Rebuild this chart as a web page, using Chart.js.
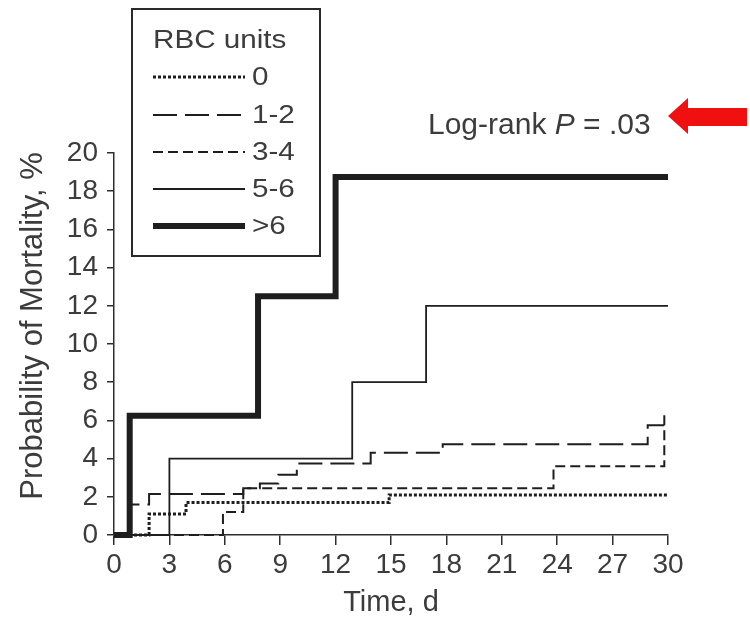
<!DOCTYPE html>
<html>
<head>
<meta charset="utf-8">
<script src="https://cdn.jsdelivr.net/npm/chart.js@4.4.1/dist/chart.umd.min.js"></script>
<style>
  body { margin: 0; background: #fff; }
  #wrap { width: 750px; height: 622px; }
</style>
</head>
<body>
<div id="wrap"><canvas id="kmChart" width="750" height="622"></canvas></div>
<script>
// Kaplan-Meier style mortality curves by RBC units transfused
const groupLabels = ['0', '1-2', '3-4', '5-6', '>6'];

const days0 = [0, 1.9, 3.9, 14.9, 30];
const mort0 = [0, 1.1, 1.7, 2.1, 2.1];

const days12 = [0, 0.9, 1.9, 7.0, 7.9, 8.9, 9.9, 13.9, 17.8, 28.9, 29.8];
const mort12 = [0, 1.6, 2.15, 2.45, 2.7, 3.15, 3.75, 4.3, 4.75, 5.75, 5.75];

const days34 = [0, 5.9, 7.0, 23.8, 29.8];
const mort34 = [0, 1.2, 2.45, 3.6, 6.3];

const days56 = [0, 3.0, 12.9, 16.9, 30];
const mort56 = [0, 4, 8, 12, 12];

const days6 = [0, 0.85, 7.8, 12.0, 30];
const mort6 = [0, 6.25, 12.5, 18.75, 18.75];

const xTicks = [0, 3, 6, 9, 12, 15, 18, 21, 24, 27, 30];
const yTicks = [0, 2, 4, 6, 8, 10, 12, 14, 16, 18, 20];

const pValueText = '.03';

const FONT = '"Liberation Sans", Arial, Helvetica, sans-serif';
const TEXT_COLOR = '#3c3c3c';
const LINE_COLOR = '#1e1e1e';

const lineStyles = [
    { width: 3, dash: [3, 2] },
    { width: 2, dash: [24, 8] },
    { width: 2, dash: [10, 5] },
    { width: 1.8, dash: [] },
    { width: 6, dash: [] }
];

function toPoints(xs, ys) {
    return xs.map((x, i) => ({ x: x, y: ys[i] }));
}

const allDays = [days0, days12, days34, days56, days6];
const allMort = [mort0, mort12, mort34, mort56, mort6];

const datasets = groupLabels.map((label, i) => ({
    label: label,
    data: toPoints(allDays[i], allMort[i]),
    borderColor: LINE_COLOR,
    borderWidth: lineStyles[i].width,
    borderDash: lineStyles[i].dash,
    borderCapStyle: 'butt',
    stepped: 'before',
    pointRadius: 0,
    fill: false,
    clip: 10,
    order: groupLabels.length - i
}));

// text a bit wider than the font, like the scanned figure
function wideText(ctx, str, x, y, stretch) {
    ctx.save();
    ctx.translate(x, y);
    ctx.scale(stretch, 1);
    ctx.fillText(str, 0, 0);
    ctx.restore();
}

// draws the boxed legend, axis titles, p-value note and red arrow
const decorPlugin = {
    id: 'decor',
    afterDraw(chart) {
        const ctx = chart.ctx;
        const area = chart.chartArea;
        ctx.save();

        // legend box
        ctx.strokeStyle = '#2a2a2a';
        ctx.lineWidth = 2;
        ctx.strokeRect(132, 9, 188, 247);
        ctx.fillStyle = TEXT_COLOR;
        ctx.textBaseline = 'middle';
        ctx.textAlign = 'left';
        ctx.font = '26px ' + FONT;
        wideText(ctx, 'RBC units', 153, 41, 1.14);
        const rowY = [77, 115, 152, 189, 226];
        groupLabels.forEach((label, i) => {
            ctx.beginPath();
            ctx.strokeStyle = LINE_COLOR;
            ctx.lineWidth = lineStyles[i].width;
            ctx.setLineDash(lineStyles[i].dash);
            ctx.moveTo(153, rowY[i]);
            ctx.lineTo(245, rowY[i]);
            ctx.stroke();
            ctx.setLineDash([]);
            ctx.fillStyle = TEXT_COLOR;
            wideText(ctx, label, 252, rowY[i] + 1, 1.14);
        });

        // axis titles
        ctx.font = '29px ' + FONT;
        ctx.textAlign = 'center';
        ctx.fillText('Time, d', (area.left + area.right) / 2, 603);
        ctx.save();
        ctx.translate(33, 326);
        ctx.rotate(-Math.PI / 2);
        ctx.font = '31px ' + FONT;
        ctx.fillText('Probability of Mortality, %', 0, 0);
        ctx.restore();

        // log-rank annotation
        ctx.textAlign = 'left';
        ctx.textBaseline = 'alphabetic';
        let x = 428;
        const base = 134;
        ctx.font = '30px ' + FONT;
        ctx.fillText('Log-rank ', x, base);
        x += ctx.measureText('Log-rank ').width;
        ctx.font = 'italic 30px ' + FONT;
        ctx.fillText('P', x, base);
        x += ctx.measureText('P').width;
        ctx.font = '30px ' + FONT;
        ctx.fillText(' = ' + pValueText, x, base);

        // red arrow pointing at the p-value
        const tipX = area.right;
        ctx.fillStyle = '#f01010';
        ctx.beginPath();
        ctx.moveTo(tipX, 116);
        ctx.lineTo(tipX + 20, 98);
        ctx.lineTo(tipX + 20, 108);
        ctx.lineTo(tipX + 79, 108);
        ctx.lineTo(tipX + 79, 126);
        ctx.lineTo(tipX + 20, 126);
        ctx.lineTo(tipX + 20, 134);
        ctx.closePath();
        ctx.fill();

        ctx.restore();
    }
};

const axisColor = '#2e2e2e';

new Chart(document.getElementById('kmChart'), {
    type: 'line',
    data: { datasets: datasets },
    options: {
        responsive: false,
        animation: false,
        events: [],
        layout: { padding: { top: 153, right: 82, left: 0, bottom: 0 } },
        plugins: {
            legend: { display: false },
            tooltip: { enabled: false }
        },
        scales: {
            x: {
                type: 'linear',
                min: 0,
                max: 30,
                afterFit: function (scale) { scale.height = 87; },
                afterBuildTicks: function (scale) {
                    scale.ticks = xTicks.map(v => ({ value: v }));
                },
                border: { display: true, color: axisColor, width: 1.5 },
                grid: {
                    drawOnChartArea: false,
                    drawTicks: true,
                    tickLength: 10,
                    color: axisColor,
                    lineWidth: 1.5
                },
                ticks: {
                    color: TEXT_COLOR,
                    padding: 3,
                    maxRotation: 0,
                    autoSkip: false,
                    font: { family: FONT, size: 28 }
                }
            },
            y: {
                min: 0,
                max: 20,
                afterFit: function (scale) { scale.width = 114; },
                afterBuildTicks: function (scale) {
                    scale.ticks = yTicks.map(v => ({ value: v }));
                },
                border: { display: true, color: axisColor, width: 1.5 },
                grid: {
                    drawOnChartArea: false,
                    drawTicks: true,
                    tickLength: 7,
                    color: axisColor,
                    lineWidth: 1.5
                },
                ticks: {
                    color: TEXT_COLOR,
                    padding: 9,
                    autoSkip: false,
                    font: { family: FONT, size: 28 }
                }
            }
        }
    },
    plugins: [decorPlugin]
});
</script>
</body>
</html>
